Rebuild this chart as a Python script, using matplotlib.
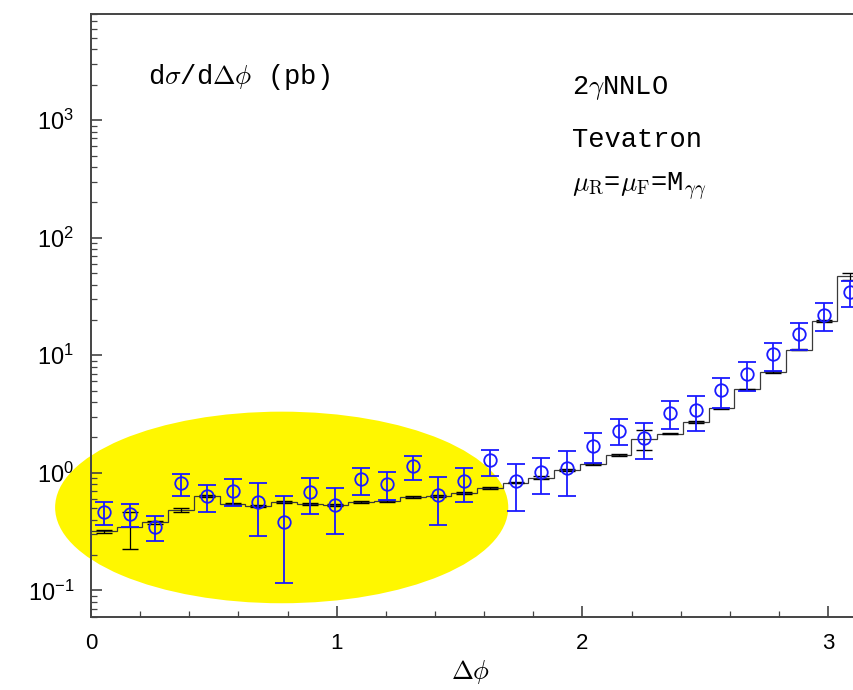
import matplotlib.pyplot as plt
import numpy as np
from matplotlib.patches import Ellipse
from matplotlib.ticker import MultipleLocator, LogLocator

plt.rcParams['mathtext.fontset'] = 'cm'
plt.rcParams['font.family'] = ['Liberation Sans', 'DejaVu Sans']

# 30 bins in delta phi between 0 and pi
nbins = 30
edges = np.linspace(0, np.pi, nbins + 1)

# theory histogram (pb) and its small MC errors
theory = [0.318, 0.347, 0.38, 0.487, 0.632, 0.548, 0.526, 0.562, 0.548, 0.537,
          0.562, 0.577, 0.624, 0.632, 0.675, 0.745, 0.822, 0.912, 1.05, 1.19,
          1.41, 1.95, 2.15, 2.72, 3.53, 5.13, 7.19, 11.2, 19.5, 46.8]
theory_err = [0.008, 0.12, 0.01, 0.02, 0.01, 0.01, 0.01, 0.01, 0.01, 0.01,
              0.01, 0.01, 0.01, 0.01, 0.01, 0.01, 0.01, 0.02, 0.02, 0.02,
              0.03, 0.38, 0.03, 0.04, 0.05, 0.08, 0.1, 0.15, 0.3, 3.3]

# measured points with upper / lower ends of the error bars
meas = [0.462, 0.448, 0.349, 0.816, 0.632, 0.707, 0.562, 0.380, 0.684, 0.530,
        0.889, 0.806, 1.138, 0.645, 0.849, 1.28, 0.849, 1.02, 1.10, 1.69,
        2.29, 1.99, 3.24, 3.41, 5.02, 6.87, 10.2, 15.1, 22.2, 34.5]
meas_hi = [0.562, 0.548, 0.433, 0.987, 0.79, 0.889, 0.822, 0.641, 0.9, 0.745,
           1.09, 1.026, 1.396, 0.93, 1.109, 1.57, 1.2, 1.35, 1.52, 2.17,
           2.88, 2.67, 4.07, 4.47, 6.4, 8.7, 12.8, 18.9, 27.7, 42.9]
meas_lo = [0.361, 0.347, 0.264, 0.641, 0.462, 0.526, 0.292, 0.116, 0.444, 0.304,
           0.65, 0.585, 0.877, 0.358, 0.57, 0.948, 0.471, 0.667, 0.641, 1.22,
           1.71, 1.30, 2.34, 2.26, 3.55, 4.99, 7.29, 11.2, 16.1, 25.9]

centers = 0.5 * (edges[:-1] + edges[1:])
theory = np.array(theory)
meas = np.array(meas)

fig = plt.figure(figsize=(8.54, 6.9), dpi=100)
ax = fig.add_axes([91 / 854, 73.5 / 690, 772 / 854, 602.5 / 690])

# yellow highlight, drawn under everything and not clipped
ax.add_patch(Ellipse((0.247, 0.181), 0.587, 0.318, transform=ax.transAxes,
                     facecolor='#fff700', edgecolor='none', clip_on=False, zorder=0.5))

ax.stairs(theory, edges, baseline=None, color='#3a3a3a', lw=0.9, zorder=2)
ax.errorbar(centers, theory, yerr=theory_err, fmt='none', ecolor='black',
            elinewidth=0.9, capsize=6, capthick=1.0, zorder=2)
ax.errorbar(centers, meas, yerr=[meas - np.array(meas_lo), np.array(meas_hi) - meas],
            fmt='o', mfc='none', mec='#1a1aff', ecolor='#1a1aff', ms=9, mew=1.3,
            elinewidth=1.3, capsize=6.5, capthick=1.3, zorder=3)

ax.set_yscale('log')
ax.set_ylim(0.06, 8000)
ax.set_xlim(0, np.pi)
ax.xaxis.set_major_locator(MultipleLocator(1))
ax.xaxis.set_minor_locator(MultipleLocator(0.2))
ax.yaxis.set_major_locator(LogLocator(base=10, numticks=20))
ax.yaxis.set_minor_locator(LogLocator(base=10, subs=np.arange(2, 10), numticks=20))

ax.tick_params(which='both', direction='in', top=False, right=False, color='#444')
ax.tick_params(which='major', length=8, width=1.2, pad=12)
ax.tick_params(which='minor', length=4, width=0.9)
ax.tick_params(axis='y', labelsize=17)
ax.tick_params(axis='x', labelsize=16)
for s in ['top', 'left', 'bottom']:
    ax.spines[s].set_color('#444')
    ax.spines[s].set_linewidth(1.4)
ax.spines['right'].set_visible(False)

mono = 'Liberation Mono'
fig.text(148 / 854, 1 - 77 / 690, r'd$\sigma$/d$\Delta\phi$ (pb)', family=mono,
         fontsize=19.5, ha='left', va='center')
fig.text(572 / 854, 1 - 88 / 690, r'2$\gamma$NNLO', family=mono, fontsize=19.5,
         ha='left', va='center')
fig.text(572 / 854, 1 - 140 / 690, 'Tevatron', family=mono, fontsize=19.5,
         ha='left', va='center')
fig.text(572 / 854, 1 - 187 / 690, r'$\mu_\mathrm{R}$=$\mu_\mathrm{F}$=M$_{\gamma\gamma}$',
         family=mono, fontsize=19.5, ha='left', va='center')
fig.text(471 / 854, 1 - 672 / 690, r'$\Delta\phi$', fontsize=19, ha='center', va='center')

fig.savefig('out.png', dpi=100)
